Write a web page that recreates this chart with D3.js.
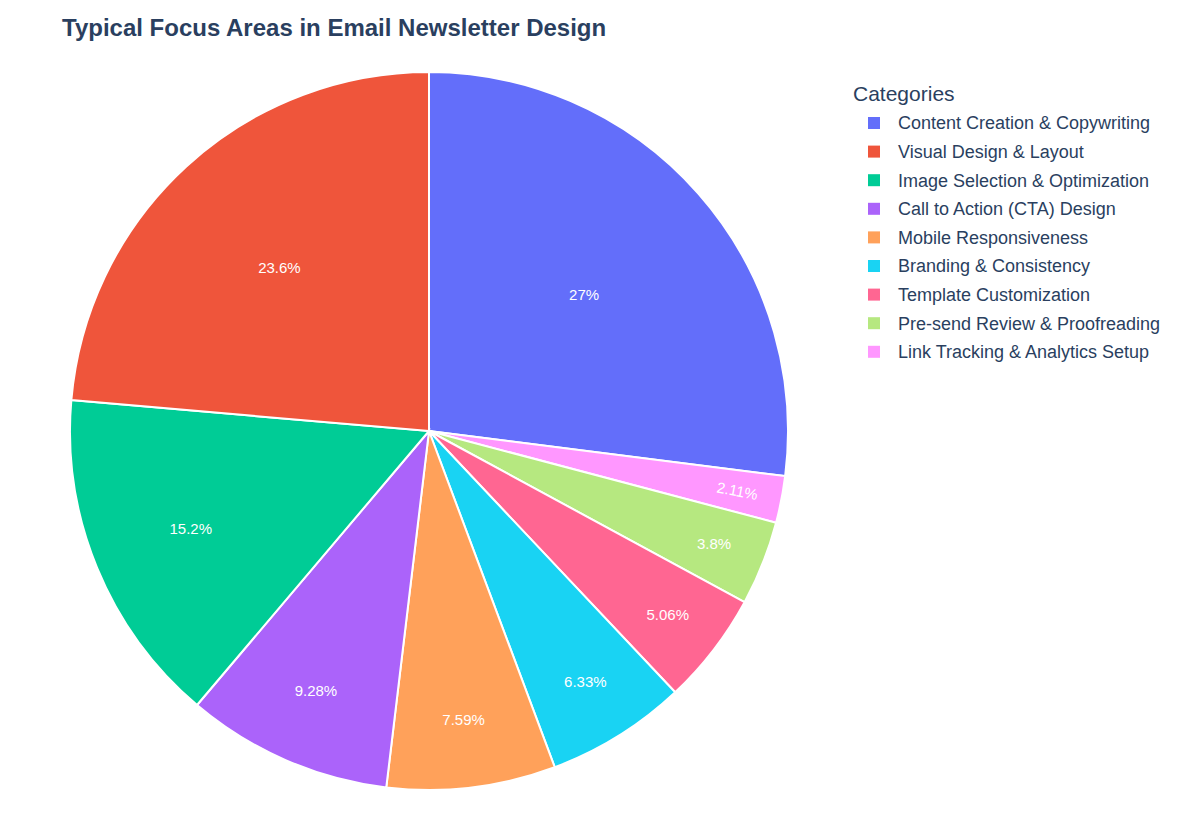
<!DOCTYPE html>
<html><head><meta charset="utf-8">
<script src="https://cdn.jsdelivr.net/npm/d3@7"></script>
<style>body{margin:0;background:#fff}</style></head>
<body><svg id="c" width="1200" height="840"></svg>
<script>
const categories = ["Content Creation & Copywriting","Visual Design & Layout","Image Selection & Optimization","Call to Action (CTA) Design","Mobile Responsiveness","Branding & Consistency","Template Customization","Pre-send Review & Proofreading","Link Tracking & Analytics Setup"];
const values = [64,56,36,22,18,15,12,9,5];
const colors = ["#636efa","#EF553B","#00cc96","#ab63fa","#FFA15A","#19d3f3","#FF6692","#B6E880","#FF97FF"];
// clockwise drawing order starting at 12 o'clock
const drawOrder = [0,8,7,6,5,4,3,2,1];

const svg = d3.select("#c");
const font = "'Liberation Sans', Arial, sans-serif";
svg.append("text").attr("x",62).attr("y",36).attr("font-family",font).attr("font-weight","bold")
  .attr("font-size",24).attr("fill","#2a3f5f").text("Typical Focus Areas in Email Newsletter Design");

const cx=429, cy=431, R=359;
const total = d3.sum(values);
const pie = d3.pie().sort(null).value(i=>values[i]).startAngle(0).endAngle(2*Math.PI);
const arcs = pie(drawOrder);
const arc = d3.arc().innerRadius(0).outerRadius(R);
const g = svg.append("g").attr("transform",`translate(${cx},${cy})`);
g.selectAll("path").data(arcs).join("path").attr("d",arc)
  .attr("fill",d=>colors[d.data]).attr("stroke","#fff").attr("stroke-width",2);

const fmt = v => { const p=v/total*100; return (+p.toPrecision(3)).toString()+"%"; };
arcs.forEach(d=>{
  const p = values[d.data]/total;
  const a = (d.startAngle+d.endAngle)/2;
  const r = R*(0.9-1.2*p);
  const x = r*Math.sin(a), y = -r*Math.cos(a);
  let rot = 0;
  if (p < 0.03) rot = (a*180/Math.PI) - 90;
  g.append("text").attr("transform",`translate(${x},${y}) rotate(${rot})`)
    .attr("text-anchor","middle").attr("dy","0.35em").attr("font-family",font)
    .attr("font-size",15).attr("fill","#fff").text(fmt(values[d.data]));
});

const lg = svg.append("g");
lg.append("text").attr("x",853).attr("y",101).attr("font-family",font).attr("font-size",21)
  .attr("fill","#2a3f5f").text("Categories");
categories.forEach((c,i)=>{
  const y = 123 + i*28.6;
  lg.append("rect").attr("x",868).attr("y",y-6).attr("width",12).attr("height",12).attr("fill",colors[i]);
  lg.append("text").attr("x",898).attr("y",y).attr("dy","0.35em").attr("font-family",font)
    .attr("font-size",18).attr("fill","#2a3f5f").text(c);
});
</script></body></html>
